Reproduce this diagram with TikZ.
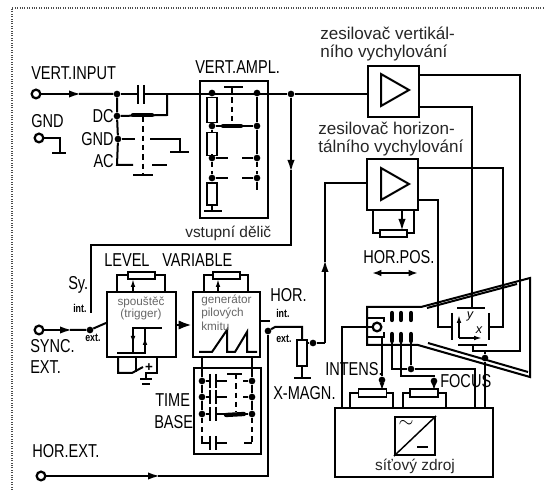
\documentclass[tikz,border=0pt]{standalone}
\usepackage{fontspec}
\usetikzlibrary{arrows.meta}
\setmainfont{Liberation Sans}
\newfontfamily\narrowfont[FakeStretch=0.78]{Liberation Sans}
\tikzset{
    wire/.style={line width=1.5pt},
    thin wire/.style={line width=1.1pt},
    dashwire/.style={line width=1.3pt, dash pattern=on 4pt off 3pt},
    contact/.style={line width=3.2pt, line cap=round},
    arr/.style={line width=1.5pt, -{Latex[length=9pt,width=5.5pt]}},
    smallarr/.style={line width=1.1pt, -{Latex[length=6pt,width=3.5pt]}},
    blk/.style={rectangle, draw, line width=1.5pt, inner sep=0pt},
    res/.style={rectangle, draw, line width=1.4pt, fill=white, inner sep=0pt},
    dot/.style={circle, fill, inner sep=0pt, minimum size=5pt},
    term/.style={circle, draw, line width=1.7pt, fill=white, inner sep=0pt, minimum size=6.5pt},
    lab/.style={inner sep=0pt, font=\narrowfont\fontsize{14}{14}\selectfont},
    sublab/.style={inner sep=0pt, font=\narrowfont\bfseries\fontsize{8.5}{9}\selectfont},
    txt/.style={inner sep=0pt, text=black!85, font=\fontsize{11.6}{12}\selectfont},
    bigtxt/.style={inner sep=0pt, text=black!85, font=\fontsize{12.8}{13}\selectfont},
    inbox/.style={inner sep=0pt, text=black!60, font=\fontsize{8.8}{9}\selectfont},
}
\begin{document}
\begin{tikzpicture}[x=0.75pt, y=-0.75pt]
    \useasboundingbox (0,0) rectangle (544,495);
    % frame of the scan
    \draw[densely dotted, black!70, line width=0.8pt] (12,490) -- (12,8) -- (544,8);

    % blocks
    \node [blk, minimum width=51pt, minimum height=102.75pt] (divider) at (234,150) {};
    \node [blk, minimum width=38.25pt, minimum height=38.25pt] (vamp) at (393,91.5) {};
    \node [blk, minimum width=38.25pt, minimum height=38.25pt] (hamp) at (392,184.5) {};
    \node [blk, minimum width=51.75pt, minimum height=48.75pt] (trigger) at (141.5,324.5) {};
    \node [blk, minimum width=50.25pt, minimum height=48.75pt] (generator) at (226.5,324.5) {};
    \node [blk, minimum width=50.25pt, minimum height=64.5pt] (timebase) at (227.5,411) {};
    \node [blk, minimum width=118.5pt, minimum height=51.75pt] (supply) at (414,442.5) {};
    \node [blk, minimum width=30pt, minimum height=28.5pt] (mains) at (415,436) {};
    \draw[thin wire] (mains.south west) -- (mains.north east);
    \node [inner sep=0pt, font=\fontsize{15}{15}\selectfont] (sine) at (406,424) {$\sim$};
    \draw[wire] (417,447) -- (428,447);

    % terminals
    \node [term] (vin) at (36,94) {};
    \node [term] (gndin) at (39,138) {};
    \node [term] (syncin) at (39,330) {};
    \node [term] (horin) at (41,476) {};

    % vertical input and coupling switch
    \node [dot] (j1) at (117,94) {};
    \node [dot] (dc) at (117,116) {};
    \node [dot] (gnd) at (118,139) {};
    \coordinate (ac) at (117,165);
    \draw[arr] (vin) -- (81,94);
    \draw[wire] (79,94) -- (j1) -- (dc) -- (gnd) -- (ac) -- (133,165);
    \draw[wire] (j1) -- (138,94);
    \draw[wire] (138,85) -- (138,104);
    \draw[wire] (144,85) -- (144,104);
    \node [dot] (j2) at (291,94) {};
    \draw[wire] (144,94) -- (j2) -- (vamp.west |- j2);
    \draw[wire] (167,94) -- (167,115) -- (dc);
    \draw[contact] (133,115) -- (152,115);
    \draw[dashwire] (143,117) -- (143,175);
    \draw[wire] (133,175) -- (153,175);
    \draw[wire] (gnd) -- (135,139);
    \draw[wire] (150,139) -- (180,139) -- (180,152);
    \draw[wire] (170,152) -- (189,152);
    \draw[wire] (152,165) -- (167,165);
    \draw[wire] (gndin) -- (60,138) -- (60,153);
    \draw[wire] (52,153) -- (66,153);

    % vstupni delic
    \node [res, minimum width=7.5pt, minimum height=18.75pt] (r1) at (212,110) {};
    \node [res, minimum width=7.5pt, minimum height=17.25pt] (r2) at (212,144) {};
    \node [res, minimum width=7.5pt, minimum height=16.5pt] (r3) at (212,194) {};
    \node [dot] (a1) at (212,93) {};
    \node [dot] (a2) at (212,126) {};
    \node [dot] (a3) at (212,158) {};
    \node [dot] (a4) at (212,178) {};
    \node [dot] (b1) at (257,93) {};
    \node [dot] (b2) at (257,126) {};
    \node [dot] (b3) at (257,158) {};
    \node [dot] (b4) at (257,178) {};
    \draw[wire] (a1) -- (r1) -- (a2) -- (r2) -- (a3);
    \draw[dashwire] (a3) -- (a4);
    \draw[wire] (a4) -- (r3) -- (212,211);
    \draw[wire] (204,211) -- (222,211);
    \draw[wire] (b1) -- (b2) -- (b3);
    \draw[dashwire] (b3) -- (b4);
    \draw[wire] (b4) -- (257,190);
    \draw[wire] (a2) -- (b2);
    \draw[contact] (223,126) -- (241,126);
    \draw[wire] (224,87) -- (243,87);
    \draw[dashwire] (232,88) -- (232,125);
    \draw[wire] (a3) -- (228,158);
    \draw[wire] (242,158) -- (b3);
    \draw[wire] (a4) -- (228,178);
    \draw[wire] (242,178) -- (b4);

    % amplifiers
    \draw[wire] (381,74) -- (381,106) -- (409,90) -- cycle;
    \draw[wire] (381,168) -- (381,200) -- (409,184) -- cycle;
    \node [res, minimum width=20pt, minimum height=5.5pt] (hpot) at (393.5,233.5) {};
    \draw[wire] (373,210) -- (373,233.5) -- (hpot);
    \draw[wire] (414,210) -- (414,233.5) -- (hpot);
    \draw[arr] (402,210) -- (402,231);

    % synchronisation path
    \coordinate (syncbus) at (91,245);
    \draw[arr] (j2) -- (291,172);
    \draw[wire] (291,170) -- (291,245) -- (syncbus) -- (91,313);
    \node [dot] (sw1) at (90,330) {};
    \draw[arr] (syncin) -- (72,330);
    \draw[wire] (70,330) -- (sw1) -- (trigger.west |- 0,323);
    \draw[line width=2pt, -{Latex[length=10pt,width=7pt]}] (trigger.east |- 0,325) -- (generator.west |- 0,325);

    % level and variable pots
    \node [res, minimum width=20pt, minimum height=5.5pt] (level) at (141.5,275.5) {};
    \node [res, minimum width=20pt, minimum height=5.5pt] (variable) at (226.5,275.5) {};
    \draw[wire] (117,292) -- (117,275.5) -- (level);
    \draw[wire] (165,292) -- (165,275.5) -- (level);
    \draw[smallarr] (133,292) -- (133,279);
    \draw[wire] (204,292) -- (204,275.5) -- (variable);
    \draw[wire] (248,292) -- (248,275.5) -- (variable);
    \draw[smallarr] (218,292) -- (218,279);

    % hysteresis and saw tooth
    \draw[wire] (117,353) -- (145,353) -- (145,328);
    \draw[wire] (133,353) -- (133,328) -- (162,328);
    \draw[smallarr] (133,328) -- (133,344);
    \draw[smallarr] (145,353) -- (145,337);
    \draw[wire] (199,352) -- (212,352) -- (227,330) -- (227,352) -- (235,352) -- (247,332) -- (247,352) -- (257,352);

    % under the trigger
    \draw[wire] (118,357) -- (118,373) -- (132,373) -- (143,367);
    \draw[wire] (136,357) -- (136,372);
    \draw[wire] (157,357) -- (157,373) -- (146,373) -- (146,379);
    \draw[wire] (140,379) -- (152,379);
    \draw[wire] (142,384) -- (150,384);
    \node [inner sep=0pt, font=\bfseries\fontsize{10}{10}\selectfont] (plus) at (149,368) {+};

    % time base
    \node [dot] (c1) at (202,381) {};
    \node [dot] (c2) at (202,397) {};
    \node [dot] (c3) at (202,414) {};
    \node [dot] (d1) at (252,381) {};
    \node [dot] (d2) at (252,397) {};
    \node [dot] (d3) at (252,414) {};
    \draw[wire] (202,357) -- (c1) -- (c2) -- (c3);
    \draw[wire] (252,357) -- (d1) -- (d2) -- (d3);
    \draw[dashwire] (c3) -- (202,438);
    \draw[dashwire] (d3) -- (252,443);
    \draw[wire] (c1) -- (210,381);
    \draw[wire] (216,381) -- (227,381);
    \draw[wire] (210,374) -- (210,388);
    \draw[wire] (216,374) -- (216,388);
    \draw[wire] (c2) -- (210,397);
    \draw[wire] (216,397) -- (227,397);
    \draw[wire] (210,390) -- (210,404);
    \draw[wire] (216,390) -- (216,404);
    \draw[wire] (c3) -- (210,414);
    \draw[wire] (216,414) -- (d3);
    \draw[wire] (210,407) -- (210,421);
    \draw[wire] (216,407) -- (216,421);
    \draw[contact] (226,415) -- (244,414);
    \draw[wire] (227,374) -- (242,374);
    \draw[dashwire] (236,374) -- (236,412);
    \draw[wire] (243,381) -- (d1);
    \draw[wire] (243,397) -- (d2);
    \draw[wire] (202,438) -- (202,443) -- (210,443);
    \draw[wire] (216,443) -- (227,443);
    \draw[wire] (210,436) -- (210,450);
    \draw[wire] (216,436) -- (216,450);
    \draw[wire] (244,443) -- (252,443);

    % horizontal switch and magnifier
    \node [dot] (sw2) at (268,331) {};
    \node [res, minimum width=7.5pt, minimum height=19.5pt] (xmagn) at (302,353) {};
    \node [dot] (wiper) at (313,343) {};
    \draw[wire] (generator.east |- 0,321) -- (270,321);
    \draw[wire] (sw2) -- (275,327) -- (302,327) -- (xmagn);
    \draw[wire] (xmagn) -- (302,378);
    \draw[wire] (294,378) -- (311,378);
    \draw[arr] (horin) -- (160,476);
    \draw[wire] (158,476) -- (268,476) -- (sw2);
    \draw[arr] (325,343) -- (325,260);
    \draw[wire] (325,262) -- (325,183) -- (hamp.west |- 0,183);
    \draw[wire] (325,343) -- (wiper) -- (307,343);

    % crt
    \coordinate (neck) at (367,307);
    \draw[wire] (neck) -- (421,307) -- (530,278) -- (530,377) -- (418,345) -- (367,345) -- cycle;
    \draw[wire] (427,308) -- (517,284);
    \draw[wire] (428,343) -- (528,372);
    \node [term] (cathode) at (377,327) {};
    \draw[wire] (cathode) -- (342,327) -- (342,408);
    \draw[wire] (368,318) -- (384,318) -- (384,322);
    \draw[wire] (368,337) -- (384,337) -- (384,332);
    \draw[contact] (392,313) -- (392,320);
    \draw[contact] (401,313) -- (401,320);
    \draw[contact] (411,313) -- (411,320);
    \draw[contact] (392,334) -- (392,341);
    \draw[contact] (401,334) -- (401,341);
    \draw[contact] (411,334) -- (411,341);

    % deflection plates
    \draw[wire] (457,308) -- (485,308);
    \draw[wire] (458,345) -- (487,345);
    \draw[line width=2pt] (452,313) -- (452,340);
    \draw[line width=2pt] (489,313) -- (489,340);
    \draw[wire] (vamp.east |- 0,75) -- (520,75) -- (520,351) -- (473,351) -- (473,345);
    \draw[wire] (vamp.east |- 0,107) -- (472,107) -- (472,308);
    \draw[wire] (hamp.east |- 0,168) -- (503,168) -- (503,327) -- (489,327);
    \draw[wire] (hamp.east |- 0,200) -- (438,200) -- (438,327) -- (452,327);
    \draw[smallarr] (459,338) -- (459,315);
    \draw[smallarr] (459,338) -- (482,338);
    \node [inner sep=0pt, font=\itshape\fontsize{9.5}{10}\selectfont] (ylab) at (470,316) {y};
    \node [inner sep=0pt, font=\itshape\fontsize{9.5}{10}\selectfont] (xlab) at (479,330) {x};

    % focus and intensity
    \node [res, minimum width=21pt, minimum height=5.5pt] (intens) at (372.5,393) {};
    \node [res, minimum width=21pt, minimum height=5.5pt] (focus) at (424,393) {};
    \draw[wire] (350,408) -- (350,393) -- (intens);
    \draw[wire] (393,408) -- (393,393) -- (intens);
    \draw[wire] (403,408) -- (403,393) -- (focus);
    \draw[wire] (446,408) -- (446,393) -- (focus);
    \node [dot] (e1) at (382,380) {};
    \node [dot] (e2) at (434,381) {};
    \node [dot] (e3) at (411,369) {};
    \node [dot] (e4) at (485,358) {};
    \draw[wire] (382,337) -- (e1);
    \draw[smallarr] (e1) -- (382,391);
    \draw[wire] (392,341) -- (392,369) -- (e3) -- (475,369) -- (475,408);
    \draw[wire] (411,341) -- (e3);
    \draw[wire] (401,341) -- (401,376) -- (434,376) -- (e2);
    \draw[smallarr] (e2) -- (434,391);
    \draw[wire] (485,351) -- (e4) -- (485,408);
    \draw[line width=1.5pt, {Latex[length=7pt,width=5pt]}-{Latex[length=7pt,width=5pt]}] (372,273) -- (418,273);

    % labels
    \node [lab, anchor=west] (vertinput) at (31,73) {VERT.INPUT};
    \node [lab, anchor=west] (gndlab) at (31,121) {GND};
    \node [lab, anchor=east] (dclab) at (114,116) {DC};
    \node [lab, anchor=east] (gndsw) at (114,139) {GND};
    \node [lab, anchor=east] (aclab) at (114,161) {AC};
    \node [lab, anchor=west] (vertampl) at (195,67) {VERT.AMPL.};
    \node [txt, anchor=west] (delic) at (185,233) {vstupní dělič};
    \node [lab, anchor=west] (levellab) at (104,260) {LEVEL};
    \node [lab, anchor=west] (varlab) at (162,260) {VARIABLE};
    \node [lab, anchor=west] (sylab) at (68,285) {Sy.};
    \node [sublab, anchor=west] (int1) at (73,308) {int.};
    \node [sublab, anchor=west] (ext1) at (85,338) {ext.};
    \node [lab, anchor=west] (synclab) at (30,346) {SYNC.};
    \node [lab, anchor=west] (extlab) at (30,367) {EXT.};
    \node [lab, anchor=west] (timelab) at (155,400) {TIME};
    \node [lab, anchor=west] (baselab) at (154,422) {BASE};
    \node [lab, anchor=west] (horext) at (32,451) {HOR.EXT.};
    \node [lab, anchor=west] (horlab) at (270,295) {HOR.};
    \node [sublab, anchor=west] (int2) at (276,313) {int.};
    \node [sublab, anchor=west] (ext2) at (276,339) {ext.};
    \node [lab, anchor=west] (xmagnlab) at (273,393) {X-MAGN.};
    \node [lab, anchor=west] (intenslab) at (325,369) {INTENS.};
    \node [lab, anchor=west] (focuslab) at (440,381) {FOCUS};
    \node [lab, anchor=west] (horpos) at (363,257) {HOR.POS.};
    \node [bigtxt, anchor=west] (vtxt1) at (320,33) {zesilovač vertikál-};
    \node [bigtxt, anchor=west] (vtxt2) at (320,53) {ního vychylování};
    \node [bigtxt, anchor=west] (htxt1) at (318,128) {zesilovač horizon-};
    \node [bigtxt, anchor=west] (htxt2) at (318,148) {tálního vychylování};
    \node [txt, anchor=center] (zdroj) at (415,466) {síťový zdroj};
    \node [inbox] (tr1) at (141,302) {spouštěč};
    \node [inbox] (tr2) at (141,314) {(trigger)};
    \node [inbox, anchor=west] (ge1) at (201,300) {generátor};
    \node [inbox, anchor=west] (ge2) at (201,313) {pilových};
    \node [inbox, anchor=west] (ge3) at (201,326) {kmitu};
\end{tikzpicture}
\end{document}
